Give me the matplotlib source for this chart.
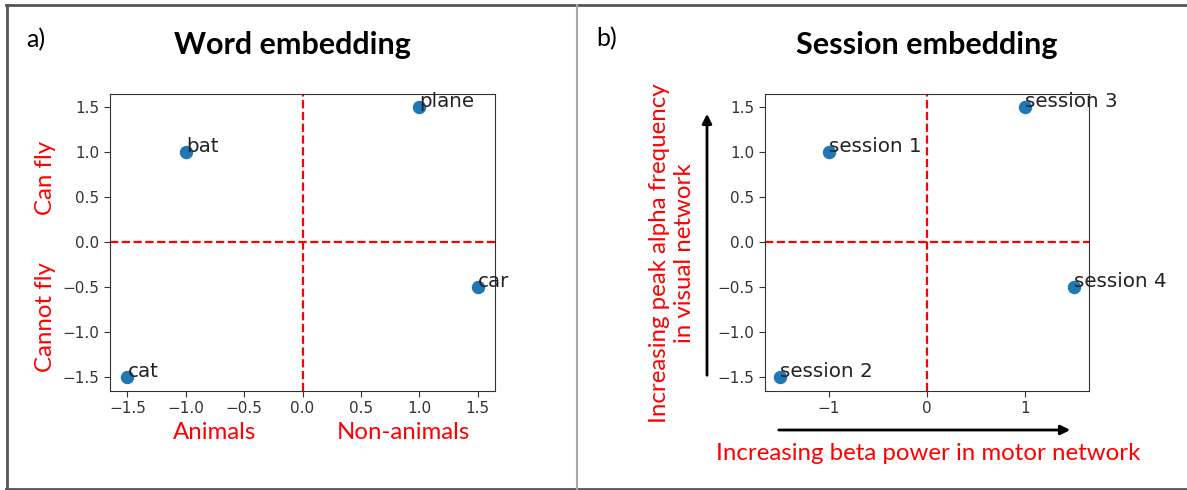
import matplotlib
matplotlib.use("Agg")
import matplotlib.pyplot as plt
from matplotlib.patches import FancyArrowPatch
from matplotlib.lines import Line2D

# ---- data ----
words = ["cat", "bat", "plane", "car"]
word_x = [-1.5, -1.0, 1.0, 1.5]
word_y = [-1.5, 1.0, 1.5, -0.5]

sessions = ["session 1", "session 2", "session 3", "session 4"]
sess_x = [-1.0, -1.5, 1.0, 1.5]
sess_y = [1.0, -1.5, 1.5, -0.5]

left_xticks = [-1.5, -1.0, -0.5, 0.0, 0.5, 1.0, 1.5]
right_xticks = [-1, 0, 1]
yticks = [-1.5, -1.0, -0.5, 0.0, 0.5, 1.0, 1.5]

W, H = 1187, 490
fig = plt.figure(figsize=(W / 100, H / 100), dpi=100)


def fx(x):
    return x / W


def fy(y):
    return 1 - y / H


def rect(l, t, r, b):
    return [fx(l), fy(b), fx(r) - fx(l), fy(t) - fy(b)]


RED = "#ff0000"
LABEL_FONT = "Lato"
RED_SIZE = 17.3


def make_panel(ax, xs, ys, names, xticks):
    ax.scatter(xs, ys, s=75, color="#1f77b4", zorder=3)
    for x, y, n in zip(xs, ys, names):
        ax.text(x, y, n, fontsize=14.3, color="#222222", zorder=4)
    ax.set_xlim(-1.65, 1.65)
    ax.set_ylim(-1.65, 1.65)
    ax.axhline(0, color="red", ls="--", lw=1.6, zorder=2)
    ax.axvline(0, color="red", ls="--", lw=1.6, zorder=2)
    ax.set_xticks(xticks)
    ax.set_yticks(yticks)
    ax.tick_params(labelsize=11, colors="#333333", length=4)
    for s in ax.spines.values():
        s.set_color("#333333")


# left panel
ax1 = fig.add_axes(rect(110, 94, 495, 390.5))
make_panel(ax1, word_x, word_y, words, left_xticks)

# right panel
ax2 = fig.add_axes(rect(765, 94, 1089, 390.5))
make_panel(ax2, sess_x, sess_y, sessions, right_xticks)

# frames
frame_kw = dict(transform=fig.transFigure, color="#555555", lw=2)
fig.add_artist(Line2D([fx(6), fx(1187)], [fy(5), fy(5)], **frame_kw))
fig.add_artist(Line2D([fx(6), fx(1187)], [fy(488.5), fy(488.5)], **frame_kw))
fig.add_artist(Line2D([fx(6.5), fx(6.5)], [fy(5), fy(488.5)], **frame_kw))
fig.add_artist(Line2D([fx(576.5), fx(576.5)], [fy(5), fy(488.5)],
                      transform=fig.transFigure, color="#a8a8a8", lw=1.5))

# panel letters and titles
fig.text(fx(26), fy(40), "a)", fontsize=18, family=LABEL_FONT, va="center", ha="left")
fig.text(fx(596), fy(39), "b)", fontsize=18, family=LABEL_FONT, va="center", ha="left")
fig.text(fx(292), fy(45), "Word embedding", fontsize=22, family=LABEL_FONT,
         weight="bold", ha="center", va="center")
fig.text(fx(927), fy(45), "Session embedding", fontsize=22, family=LABEL_FONT,
         weight="bold", ha="center", va="center")

# red axis annotations, left
fig.text(fx(45), fy(178), "Can fly", fontsize=RED_SIZE, family=LABEL_FONT, color=RED,
         rotation=90, ha="center", va="center")
fig.text(fx(45), fy(317), "Cannot fly", fontsize=RED_SIZE, family=LABEL_FONT, color=RED,
         rotation=90, ha="center", va="center")
fig.text(fx(215), fy(432), "Animals", fontsize=RED_SIZE, family=LABEL_FONT, color=RED,
         ha="center", va="center")
fig.text(fx(403), fy(432), "Non-animals", fontsize=RED_SIZE, family=LABEL_FONT, color=RED,
         ha="center", va="center")

# red axis annotations, right
fig.text(fx(672), fy(253), "Increasing peak alpha frequency\nin visual network",
         fontsize=RED_SIZE, family=LABEL_FONT, color=RED, rotation=90,
         ha="center", va="center", multialignment="center", linespacing=1.2)
fig.text(fx(928), fy(453), "Increasing beta power in motor network",
         fontsize=RED_SIZE, family=LABEL_FONT, color=RED, ha="center", va="center")

# arrows
fig.add_artist(FancyArrowPatch((fx(707), fy(378)), (fx(707), fy(111)),
                               transform=fig.transFigure, arrowstyle="-|>",
                               mutation_scale=14, lw=2, color="black"))
fig.add_artist(FancyArrowPatch((fx(776), fy(430)), (fx(1073), fy(430)),
                               transform=fig.transFigure, arrowstyle="-|>",
                               mutation_scale=14, lw=2, color="black"))

fig.savefig("out.png", dpi=100)
